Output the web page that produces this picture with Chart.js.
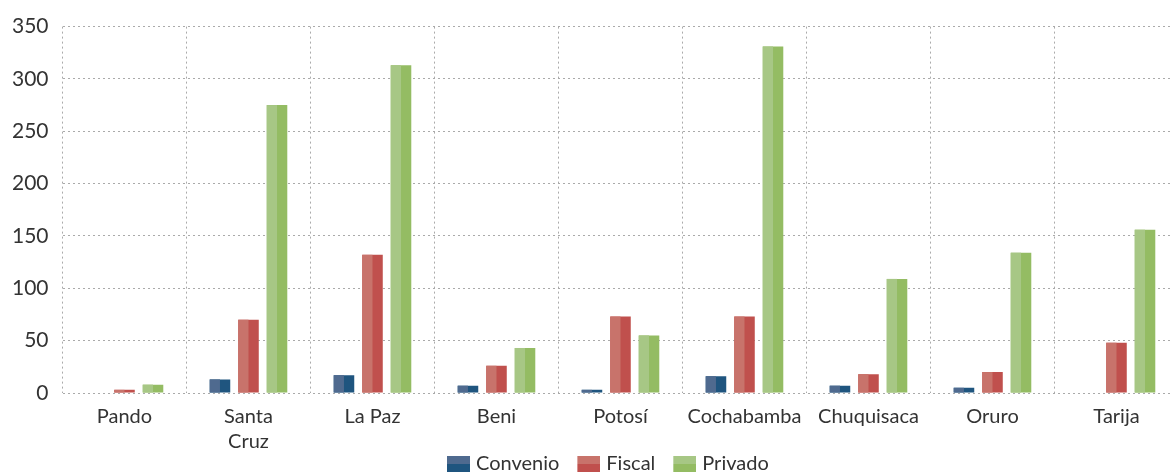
<!DOCTYPE html>
<html>
<head>
<meta charset="utf-8">
<script src="https://cdn.jsdelivr.net/npm/chart.js@4.4.0/dist/chart.umd.min.js"></script>
<style>
  html, body { margin: 0; padding: 0; background: #fff; overflow: hidden; }
  #wrap { width: 1180px; height: 476px; }
</style>
</head>
<body>
<div id="wrap"><canvas id="chart"></canvas></div>
<script>
// Chart data
const categories = ["Pando", ["Santa", "Cruz"], "La Paz", "Beni", "Potosí", "Cochabamba", "Chuquisaca", "Oruro", "Tarija"];
const convenio = [0, 13, 17, 7, 3, 16, 7, 5, 0];
const fiscal = [3, 70, 132, 26, 73, 73, 18, 20, 48];
const privado = [8, 275, 313, 43, 55, 331, 109, 134, 156];
const yTicks = [0, 50, 100, 150, 200, 250, 300, 350];

// light / dark tones for each series
const tones = {
  Convenio: ["#4f6a8f", "#1f557f"],
  Fiscal: ["#c8736b", "#c0504d"],
  Privado: ["#a7c785", "#94bc63"],
};

// legend swatch: top half light, bottom half dark,
// with a transparent margin on the left that spaces the items apart
function swatch(light, dark) {
  const c = document.createElement("canvas");
  c.width = 45;
  c.height = 16;
  const g = c.getContext("2d");
  g.fillStyle = light;
  g.fillRect(22, 0, 23, 8);
  g.fillStyle = dark;
  g.fillRect(22, 8, 23, 8);
  return c;
}

// paint the left half of every bar in the lighter tone
const twoTone = {
  id: "twoTone",
  afterDatasetsDraw(chart) {
    const ctx = chart.ctx;
    chart.data.datasets.forEach((ds, i) => {
      const meta = chart.getDatasetMeta(i);
      const light = tones[ds.label][0];
      meta.data.forEach((bar) => {
        const p = bar.getProps(["x", "y", "base", "width"], true);
        if (p.base - p.y <= 0) return;
        ctx.save();
        ctx.fillStyle = light;
        ctx.fillRect(p.x - p.width / 2, p.y, p.width / 2, p.base - p.y);
        ctx.restore();
      });
    });
  },
};

// move the legend so its first swatch starts where the original one does
const legendShift = {
  id: "legendShift",
  afterLayout(chart) {
    const lg = chart.legend;
    if (!lg || !lg.lineWidths) return;
    const start = (lg.left + lg.right - lg.lineWidths[0]) / 2;
    const delta = 429 - start;
    lg.left += delta;
    lg.right += delta;
  },
};

const textColor = "#333333";

new Chart(document.getElementById("chart").getContext("2d"), {
  type: "bar",
  data: {
    labels: categories,
    datasets: [
      { label: "Convenio", data: convenio, backgroundColor: tones.Convenio[1] },
      { label: "Fiscal", data: fiscal, backgroundColor: tones.Fiscal[1] },
      { label: "Privado", data: privado, backgroundColor: tones.Privado[1] },
    ],
  },
  options: {
    responsive: true,
    maintainAspectRatio: false,
    animation: false,
    categoryPercentage: 0.69,
    barPercentage: 0.72,
    layout: { padding: { left: 0, right: 1.5, top: -11.6, bottom: -8 } },
    scales: {
      x: {
        afterFit(scale) {
          scale.height = 61;
        },
        grid: { color: "#aaaaaa", drawTicks: false, offset: true },
        border: { display: false, dash: [2, 3] },
        ticks: {
          color: textColor,
          font: { family: "Lato", size: 20, lineHeight: 1.25 },
          padding: 11,
          maxRotation: 0,
          autoSkip: false,
        },
      },
      y: {
        min: 0,
        max: 350,
        afterFit(scale) {
          scale.width = 62.5;
        },
        afterBuildTicks(scale) {
          scale.ticks = yTicks.map((v) => ({ value: v }));
        },
        grid: { color: "#aaaaaa", drawTicks: false },
        border: { display: false, dash: [2, 3] },
        ticks: {
          color: textColor,
          font: { family: "Lato", size: 21 },
          padding: 14,
        },
      },
    },
    plugins: {
      tooltip: { enabled: false },
      legend: {
        position: "bottom",
        labels: {
          color: textColor,
          font: { family: "Lato", size: 20 },
          usePointStyle: true,
          pointStyleWidth: 37,
          padding: 0,
          generateLabels(chart) {
            return chart.data.datasets.map((ds, i) => ({
              text: ds.label,
              pointStyle: swatch(tones[ds.label][0], tones[ds.label][1]),
              fillStyle: tones[ds.label][1],
              strokeStyle: "transparent",
              lineWidth: 0,
              fontColor: textColor,
              hidden: false,
              datasetIndex: i,
            }));
          },
        },
      },
    },
  },
  plugins: [twoTone, legendShift],
});
</script>
</body>
</html>
